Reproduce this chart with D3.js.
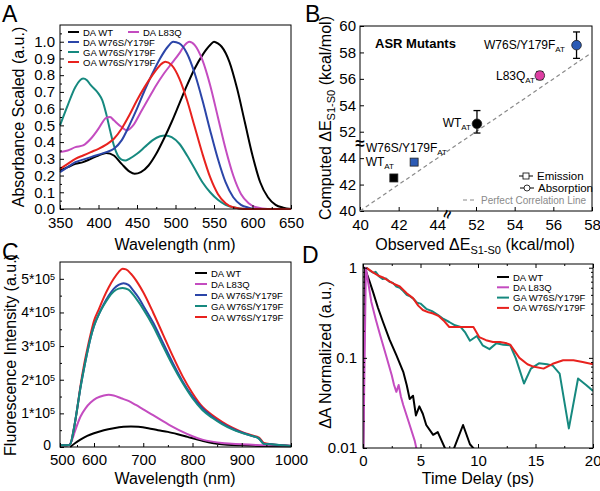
<!DOCTYPE html>
<html><head><meta charset="utf-8">
<script src="https://cdn.jsdelivr.net/npm/d3@7"></script>
<style>body{margin:0;background:#fff}svg{display:block}text{font-family:"Liberation Sans",Arial,sans-serif}</style>
</head><body><svg id="c" width="600" height="491"></svg>
<script>
// ---------- Panel A: absorbance (nm, scaled) ----------
const absTicks = [350,400,450,500,550,600,650];
const absNames = ["DA WT","DA L83Q","DA W76S/Y179F","GA W76S/Y179F","OA W76S/Y179F"];
const absDAWT = [[350,0.23],[360,0.25],[370,0.27],[380,0.28],[390,0.30],[400,0.32],[410,0.335],[420,0.32],[430,0.27],[440,0.225],[447,0.21],[455,0.22],[465,0.26],[475,0.33],[485,0.42],[495,0.52],[505,0.63],[515,0.74],[525,0.84],[535,0.92],[545,0.98],[550,1.0],[555,0.99],[560,0.97],[570,0.88],[580,0.72],[590,0.52],[600,0.32],[610,0.16],[620,0.07],[630,0.025],[640,0.008],[650,0.0]];
const absDAL83Q = [[350,0.34],[360,0.35],[370,0.37],[380,0.38],[390,0.42],[400,0.48],[410,0.545],[415,0.55],[420,0.53],[430,0.49],[437,0.47],[445,0.50],[455,0.58],[465,0.66],[475,0.74],[485,0.81],[495,0.87],[505,0.93],[512,0.98],[518,1.0],[525,0.98],[535,0.89],[545,0.74],[555,0.55],[565,0.36],[575,0.2],[585,0.09],[595,0.035],[605,0.01],[620,0],[650,0]];
const absDAW76S = [[350,0.22],[360,0.25],[370,0.28],[380,0.295],[390,0.31],[400,0.325],[410,0.34],[420,0.36],[430,0.41],[440,0.50],[450,0.60],[460,0.71],[470,0.81],[480,0.90],[490,0.97],[497,1.0],[505,0.99],[515,0.93],[525,0.81],[535,0.65],[545,0.47],[555,0.30],[565,0.16],[575,0.07],[585,0.025],[595,0.008],[605,0],[650,0]];
const absGAW76S = [[350,0.50],[360,0.62],[370,0.73],[380,0.78],[385,0.77],[390,0.74],[400,0.69],[405,0.65],[410,0.57],[415,0.47],[420,0.38],[425,0.32],[430,0.295],[435,0.29],[440,0.30],[450,0.33],[460,0.37],[470,0.41],[480,0.435],[487,0.44],[495,0.43],[505,0.39],[515,0.32],[525,0.24],[535,0.16],[545,0.10],[555,0.055],[565,0.025],[575,0.01],[590,0],[650,0]];
const absOAW76S = [[350,0.24],[360,0.27],[370,0.30],[380,0.32],[390,0.34],[400,0.36],[410,0.385],[420,0.42],[430,0.48],[440,0.56],[450,0.65],[460,0.73],[470,0.80],[480,0.86],[487,0.88],[495,0.86],[505,0.78],[515,0.65],[525,0.49],[535,0.33],[545,0.19],[555,0.09],[565,0.035],[575,0.01],[590,0],[650,0]];

// ---------- Panel B: computed vs observed (kcal/mol) ----------
const bTicks = [40,42,44,52,54,56,58];
const bYTicks = [40,42,44,52,54,56,58,60];
const bLabels = ["W76S/Y179F","L83Q","WT","W76S/Y179F","WT"];
const bObserved = [57.2,55.3,52.05,42.8,41.75];
const bComputed = [58.55,56.25,52.6,43.7,42.5];
const bError = [1.0,0.3,1.0,0,0];
const bKind = ["abs","abs","abs","em","em"];

// ---------- Panel C: fluorescence ----------
const flTicks = [500,600,700,800,900,1000];
const flYTicks = [0,1e5,2e5,3e5,4e5,5e5];
const flNames = ["DA WT","DA L83Q","DA W76S/Y179F","GA W76S/Y179F","OA W76S/Y179F"];
const flDAWT = [[530,0],[545,0.12],[560,0.22],[580,0.33],[600,0.41],[620,0.5],[640,0.56],[660,0.6],[675,0.61],[690,0.6],[710,0.56],[730,0.5],[750,0.45],[770,0.38],[790,0.3],[810,0.22],[830,0.15],[850,0.1],[870,0.07],[900,0.05],[950,0.03],[1000,0.02]];
const flDAL83Q = [[500,0.05],[525,0.05],[535,0.2],[545,0.5],[560,0.9],[575,1.15],[590,1.32],[605,1.45],[620,1.53],[630,1.55],[640,1.53],[655,1.45],[670,1.37],[685,1.25],[700,1.12],[720,0.95],[740,0.77],[760,0.6],[780,0.45],[800,0.32],[820,0.22],[840,0.16],[860,0.12],[880,0.1],[900,0.08],[930,0.06],[960,0.05],[1000,0.04]];
const flDAW76S = [[500,0.05],[520,0.05],[530,0.08],[540,0.5],[550,1.1],[560,1.75],[570,2.3],[580,2.8],[590,3.25],[600,3.6],[610,3.95],[620,4.25],[630,4.5],[640,4.7],[650,4.82],[660,4.87],[670,4.82],[680,4.65],[690,4.45],[700,4.2],[720,3.7],[740,3.1],[760,2.5],[780,1.95],[800,1.5],[820,1.15],[840,0.9],[860,0.7],[880,0.55],[900,0.43],[920,0.33],[935,0.25],[945,0.1],[960,0.08],[980,0.05],[1000,0.03]];
const flGAW76S = [[500,0.05],[520,0.05],[530,0.08],[540,0.5],[550,1.1],[560,1.75],[570,2.3],[580,2.8],[590,3.25],[600,3.6],[610,3.95],[620,4.22],[630,4.45],[640,4.62],[650,4.71],[658,4.73],[670,4.68],[680,4.52],[690,4.32],[700,4.1],[720,3.6],[740,3.0],[760,2.42],[780,1.9],[800,1.45],[820,1.1],[840,0.87],[860,0.68],[880,0.53],[900,0.42],[920,0.33],[935,0.25],[945,0.09],[960,0.08],[980,0.05],[1000,0.03]];
const flOAW76S = [[500,0.05],[520,0.05],[530,0.08],[540,0.5],[550,1.1],[560,1.8],[570,2.4],[580,2.9],[590,3.35],[600,3.75],[610,4.1],[620,4.45],[630,4.75],[640,5.0],[650,5.2],[658,5.3],[665,5.28],[675,5.15],[690,4.85],[700,4.6],[720,4.0],[740,3.35],[760,2.7],[780,2.1],[800,1.6],[820,1.2],[840,0.95],[860,0.75],[880,0.58],[900,0.45],[920,0.35],[935,0.28],[945,0.12],[960,0.08],[980,0.05],[1000,0.03]];

// ---------- Panel D: transient absorption decay ----------
const taTicks = [0,5,10,15,20];
const taYTicks = [0.01,0.1,1];
const taNames = ["DA WT","DA L83Q","GA W76S/Y179F","OA W76S/Y179F"];
const taDAWT = [[0,0.005],[0.15,1],[0.5,0.75],[0.87,0.54],[1.3,0.36],[1.74,0.25],[2.3,0.16],[2.9,0.107],[3.5,0.07],[3.8,0.05],[4.06,0.035],[4.35,0.038],[4.6,0.023],[4.9,0.029],[5.2,0.024],[5.5,0.018],[6.1,0.014],[6.5,0.015],[7.2,0.0095],[7.5,0.008],[7.9,0.0098],[8.7,0.018],[9.3,0.011],[9.9,0.009]];
const taDAL83Q = [[0,0.005],[0.25,1],[0.72,0.42],[1.1,0.27],[1.45,0.186],[2.0,0.107],[2.5,0.064],[2.7,0.05],[2.9,0.042],[3.1,0.05],[3.3,0.037],[3.5,0.03],[4.06,0.018],[4.5,0.012],[4.8,0.008]];
const taGAW76S = [[0.3,1],[0.6,0.93],[0.9,0.88],[1.1,0.9],[1.4,0.8],[1.7,0.75],[2.0,0.76],[2.3,0.7],[2.6,0.68],[2.9,0.62],[3.2,0.6],[3.5,0.55],[3.8,0.5],[4.1,0.48],[4.4,0.45],[4.7,0.41],[5.0,0.4],[5.5,0.35],[6.0,0.33],[6.5,0.3],[7.0,0.27],[7.5,0.25],[8.0,0.23],[8.5,0.22],[8.9,0.19],[9.3,0.155],[9.9,0.175],[10.4,0.138],[11.0,0.125],[11.6,0.145],[12.2,0.14],[12.8,0.138],[13.3,0.098],[14.0,0.052],[14.6,0.076],[15.3,0.087],[16.0,0.085],[16.5,0.082],[17.1,0.067],[17.9,0.0165],[18.7,0.059],[19.4,0.05],[20,0.043]];
const taOAW76S = [[0.3,1],[0.8,0.9],[1.3,0.82],[1.74,0.78],[2.2,0.72],[2.7,0.66],[3.2,0.62],[3.8,0.52],[4.35,0.46],[4.8,0.38],[5.2,0.34],[5.7,0.32],[6.1,0.31],[6.6,0.29],[7.0,0.26],[7.5,0.22],[8.2,0.22],[9.0,0.22],[9.6,0.22],[10.1,0.17],[10.7,0.157],[11.3,0.15],[11.9,0.15],[12.5,0.145],[12.8,0.14],[13.6,0.10],[14.3,0.085],[14.8,0.08],[15.7,0.076],[16.5,0.086],[17.4,0.094],[18.3,0.094],[19.1,0.09],[20,0.085]];

const C = {black:"#000000", pink:"#c44cc0", blue:"#2b45a8", teal:"#16897f", red:"#e8221e"};
const svg = d3.select("#c");

function frame(x0,y0,x1,y1){
  svg.append("rect").attr("x",x0).attr("y",y0).attr("width",x1-x0).attr("height",y1-y0)
    .attr("fill","none").attr("stroke","#000").attr("stroke-width",1);
}
function styleAxis(g,fs){
  g.select(".domain").remove();
  g.selectAll("line").attr("stroke","#000");
  g.selectAll("text").attr("font-size",fs).attr("fill","#000").attr("font-family","Liberation Sans, Arial, sans-serif");
}
function text(x,y,s,fs,anchor,opts){
  const t = svg.append("text").attr("x",x).attr("y",y).attr("font-size",fs).attr("text-anchor",anchor||"start").text(s);
  if(opts&&opts.rot) t.attr("transform",`rotate(-90,${x},${y})`);
  if(opts&&opts.bold) t.attr("font-weight","bold");
  if(opts&&opts.fill) t.attr("fill",opts.fill);
  return t;
}
function drawLegend(x,y0,dy,names,cols,fs,len){
  names.forEach((n,i)=>{
    const y=y0+i*dy;
    svg.append("line").attr("x1",x).attr("x2",x+len).attr("y1",y).attr("y2",y).attr("stroke",cols[i]).attr("stroke-width",2);
    text(x+len+4,y+3.5,n,fs);
  });
}

// ================= PANEL A =================
{
  const x = d3.scaleLinear().domain([350,650]).range([60,291]);
  const y = d3.scaleLinear().domain([0,1.1]).range([209,25]);
  const cols=[C.black,C.pink,C.blue,C.teal,C.red];
  const series=[absDAWT,absDAL83Q,absDAW76S,absGAW76S,absOAW76S];
  const order=[3,0,1,2,4];
  const line=d3.line().x(d=>x(d[0])).y(d=>y(d[1])).curve(d3.curveMonotoneX);
  order.forEach(i=>svg.append("path").attr("d",line(series[i])).attr("fill","none").attr("stroke",cols[i]).attr("stroke-width",2));
  frame(60,25,291,209);
  const gx=svg.append("g").attr("transform","translate(0,209)").call(d3.axisBottom(x).tickValues(absTicks).tickSizeInner(-4).tickSizeOuter(0).tickPadding(8));
  styleAxis(gx,15);
  const gxm=svg.append("g").attr("transform","translate(0,209)").call(d3.axisBottom(x).tickValues(d3.range(375,650,50)).tickSize(-2).tickFormat(""));
  styleAxis(gxm,1);
  const gy=svg.append("g").attr("transform","translate(60,0)").call(d3.axisLeft(y).tickValues(d3.range(0,11).map(v=>v/10)).tickFormat(d3.format(".1f")).tickSizeInner(-4).tickSizeOuter(0).tickPadding(5));
  styleAxis(gy,15);
  const gym=svg.append("g").attr("transform","translate(60,0)").call(d3.axisLeft(y).tickValues(d3.range(0,11).map(v=>v/10+0.05)).tickSize(-2).tickFormat(""));
  styleAxis(gym,1);
  text(175,250,"Wavelength (nm)",16,"middle");
  text(24,117,"Absorbance Scaled (a.u.)",16,"middle",{rot:true});
  const lg=[[68,32,0],[128,32,1],[68,42,2],[68,52,3],[68,62,4]];
  lg.forEach(([lx,ly,i])=>{
    svg.append("line").attr("x1",lx).attr("x2",lx+11).attr("y1",ly).attr("y2",ly).attr("stroke",cols[i]).attr("stroke-width",2);
    text(lx+15,ly+3.5,absNames[i],9.5);
  });
  text(2,22,"A",23);
}

// ================= PANEL B =================
{
  const sx=(592-360)/6, sy=(211-26)/7;
  const x = d3.scaleLinear().domain([40,44,52,58]).range([360,360+2*sx,360+3*sx,592]);
  const y = d3.scaleLinear().domain([40,44,52,60]).range([211,211-2*sy,211-3*sy,26]);
  frame(360,26,592,211);
  const gx=svg.append("g").attr("transform","translate(0,211)").call(d3.axisBottom(x).tickValues(bTicks).tickSizeInner(-4).tickSizeOuter(0).tickPadding(8));
  styleAxis(gx,15);
  const gy=svg.append("g").attr("transform","translate(360,0)").call(d3.axisLeft(y).tickValues(bYTicks).tickSizeInner(-4).tickSizeOuter(0).tickPadding(4));
  styleAxis(gy,15);
  svg.append("text").attr("x",360).attr("y",149).attr("text-anchor","middle").attr("font-size",17).attr("font-weight","bold").text("≈");
  svg.append("text").attr("x",0).attr("y",0).attr("text-anchor","middle").attr("font-size",15).attr("font-weight","bold")
    .attr("transform",`translate(452,216) rotate(-70)`).text("≈");
  const line=d3.line().x(d=>x(d)).y(d=>y(d));
  svg.append("path").attr("d",line([40,44,52,58])).attr("fill","none").attr("stroke","#8a8a8a").attr("stroke-width",1.2).attr("stroke-dasharray","4,3");
  const fills=["#2c5bb5","#de3ea2","#000000","#2c5bb5","#000000"];
  bObserved.forEach((ox,i)=>{
    const cx=x(ox), cy=y(bComputed[i]);
    if(bError[i]>0){
      const e1=y(bComputed[i]-bError[i]), e2=y(bComputed[i]+bError[i]);
      svg.append("line").attr("x1",cx).attr("x2",cx).attr("y1",e1).attr("y2",e2).attr("stroke","#000").attr("stroke-width",1.3);
      [e1,e2].forEach(e=>svg.append("line").attr("x1",cx-3.5).attr("x2",cx+3.5).attr("y1",e).attr("y2",e).attr("stroke","#000").attr("stroke-width",1.3));
    }
    if(bKind[i]==="abs") svg.append("circle").attr("cx",cx).attr("cy",cy).attr("r",4.8).attr("fill",fills[i]).attr("stroke","#222").attr("stroke-width",0.8);
    else svg.append("rect").attr("x",cx-4).attr("y",cy-4).attr("width",8).attr("height",8).attr("fill",fills[i]).attr("stroke","#222").attr("stroke-width",0.8);
  });
  const lab=[[565,49,0],[535,80,1],[471,127,2],[447,152,3],[394,166,4]];
  lab.forEach(([lx,ly,i])=>{
    const t=svg.append("text").attr("x",lx).attr("y",ly).attr("font-size",12).attr("text-anchor","end");
    t.append("tspan").text(bLabels[i]);
    t.append("tspan").attr("font-size",8).attr("dy",3).text("AT");
  });
  text(375,48,"ASR Mutants",13,"start",{bold:true});
  // legend
  svg.append("line").attr("x1",519).attr("x2",533).attr("y1",176).attr("y2",176).attr("stroke","#000").attr("stroke-width",1);
  svg.append("rect").attr("x",523).attr("y",173).attr("width",6).attr("height",6).attr("fill","#fff").attr("stroke","#000").attr("stroke-width",0.8);
  text(537,180,"Emission",11.5);
  svg.append("line").attr("x1",520).attr("x2",534).attr("y1",188).attr("y2",188).attr("stroke","#000").attr("stroke-width",1);
  svg.append("circle").attr("cx",527).attr("cy",188).attr("r",3).attr("fill","#fff").attr("stroke","#000").attr("stroke-width",0.8);
  text(538,192,"Absorption",11.5);
  svg.append("line").attr("x1",463).attr("x2",477).attr("y1",200).attr("y2",200).attr("stroke","#8a8a8a").attr("stroke-width",1.2).attr("stroke-dasharray","4,3");
  text(481,204,"Perfect Correlation Line",10,"start",{fill:"#8a8a8a"});
  const tx=svg.append("text").attr("x",475).attr("y",250).attr("font-size",16).attr("text-anchor","middle");
  tx.append("tspan").text("Observed ΔE");
  tx.append("tspan").attr("font-size",11).attr("dy",4).text("S1-S0");
  tx.append("tspan").attr("dy",-4).text(" (kcal/mol)");
  const ty=svg.append("text").attr("x",331).attr("y",118).attr("font-size",16).attr("text-anchor","middle").attr("transform","rotate(-90,331,118)");
  ty.append("tspan").text("Computed ΔE");
  ty.append("tspan").attr("font-size",11).attr("dy",4).text("S1-S0");
  ty.append("tspan").attr("dy",-4).text(" (kcal/mol)");
  text(305,22,"B",23);
}

// ================= PANEL C =================
{
  const x = d3.scaleLinear().domain([500,600,1000]).range([60,94,291]);
  const y = d3.scaleLinear().domain([0,5.5e5]).range([447,262]);
  const cols=[C.black,C.pink,C.blue,C.teal,C.red];
  const series=[flDAWT,flDAL83Q,flDAW76S,flGAW76S,flOAW76S];
  const line=d3.line().x(d=>x(d[0])).y(d=>y(d[1]*1e5)).curve(d3.curveMonotoneX);
  [0,1,4,2,3].forEach(i=>svg.append("path").attr("d",line(series[i])).attr("fill","none").attr("stroke",cols[i]).attr("stroke-width",2));
  frame(60,262,291,447);
  const gx=svg.append("g").attr("transform","translate(0,447)").call(d3.axisBottom(x).tickValues(flTicks).tickFormat(d3.format("d")).tickSizeInner(-4).tickSizeOuter(0).tickPadding(7));
  styleAxis(gx,15);
  gx.selectAll(".tick text").filter(d=>d===500).attr("dx",2);
  const gxm=svg.append("g").attr("transform","translate(0,447)").call(d3.axisBottom(x).tickValues([550,650,750,850,950]).tickSize(-2).tickFormat(""));
  styleAxis(gxm,1);
  const gy=svg.append("g").attr("transform","translate(60,0)").call(d3.axisLeft(y).tickValues(flYTicks).tickSizeInner(-4).tickSizeOuter(0).tickPadding(5));
  styleAxis(gy,14);
  gy.selectAll(".tick text").each(function(d){
    const t=d3.select(this); t.text("");
    if(d===0){t.attr("dx",-4).attr("dy","0.2em").text("0");return;}
    t.append("tspan").text((d/1e5)+"*10");
    t.append("tspan").attr("dy","-0.45em").attr("font-size",9).text("5");
  });
  const gym=svg.append("g").attr("transform","translate(60,0)").call(d3.axisLeft(y).tickValues([0.5e5,1.5e5,2.5e5,3.5e5,4.5e5]).tickSize(-2).tickFormat(""));
  styleAxis(gym,1);
  text(175,484,"Wavelength (nm)",16,"middle");
  text(16,355,"Fluorescence Intensity (a.u.)",16,"middle",{rot:true});
  drawLegend(195,273,11,flNames,cols,9.5,12);
  text(2,260,"C",23);
}

// ================= PANEL D =================
{
  const x = d3.scaleLinear().domain([0,20]).range([363,593]);
  const y = d3.scaleLog().domain([0.01,1.1]).range([448,264]);
  svg.append("defs").append("clipPath").attr("id","clipD").append("rect").attr("x",363).attr("y",264).attr("width",230).attr("height",184);
  const cols=[C.black,C.pink,C.teal,C.red];
  const series=[taDAWT,taDAL83Q,taGAW76S,taOAW76S];
  const line=d3.line().x(d=>x(d[0])).y(d=>y(d[1]));
  const gL=svg.append("g").attr("clip-path","url(#clipD)");
  [0,1,2,3].forEach(i=>gL.append("path").attr("d",line(series[i])).attr("fill","none").attr("stroke",cols[i]).attr("stroke-width",2).attr("stroke-linejoin","round"));
  frame(363,264,593,448);
  const gx=svg.append("g").attr("transform","translate(0,448)").call(d3.axisBottom(x).tickValues(taTicks).tickSizeInner(-4).tickSizeOuter(0).tickPadding(7));
  styleAxis(gx,15);
  gx.selectAll(".tick text").filter(d=>d===20).attr("text-anchor","end").attr("dx",8);
  const gxm=svg.append("g").attr("transform","translate(0,448)").call(d3.axisBottom(x).tickValues([2.5,7.5,12.5,17.5]).tickSize(-2).tickFormat(""));
  styleAxis(gxm,1);
  const gxt=svg.append("g").attr("transform","translate(0,264)").call(d3.axisTop(x).tickValues(taTicks).tickSize(-4).tickFormat(""));
  styleAxis(gxt,1);
  const gxtm=svg.append("g").attr("transform","translate(0,264)").call(d3.axisTop(x).tickValues([2.5,7.5,12.5,17.5]).tickSize(-2).tickFormat(""));
  styleAxis(gxtm,1);
  const gy=svg.append("g").attr("transform","translate(363,0)").call(d3.axisLeft(y).tickValues(taYTicks).tickFormat(d=>d===1?"1":(d===0.1?"0.1":"0.01")).tickSizeInner(-4).tickSizeOuter(0).tickPadding(6));
  styleAxis(gy,15);
  const minor=[];[0.01,0.1].forEach(b=>{for(let k=2;k<=9;k++)minor.push(b*k);});
  const gym=svg.append("g").attr("transform","translate(363,0)").call(d3.axisLeft(y).tickValues(minor).tickSize(-2).tickFormat(""));
  styleAxis(gym,1);
  const gyr=svg.append("g").attr("transform","translate(593,0)").call(d3.axisRight(y).tickValues(taYTicks).tickSize(-4).tickFormat(""));
  styleAxis(gyr,1);
  const gyrm=svg.append("g").attr("transform","translate(593,0)").call(d3.axisRight(y).tickValues(minor).tickSize(-2).tickFormat(""));
  styleAxis(gyrm,1);
  text(478,484,"Time Delay (ps)",16,"middle");
  text(331,355,"ΔA Normalized (a.u.)",16,"middle",{rot:true});
  drawLegend(497,277,10.3,taNames,cols,9.5,12);
  text(302,263,"D",23);
}
</script></body></html>
